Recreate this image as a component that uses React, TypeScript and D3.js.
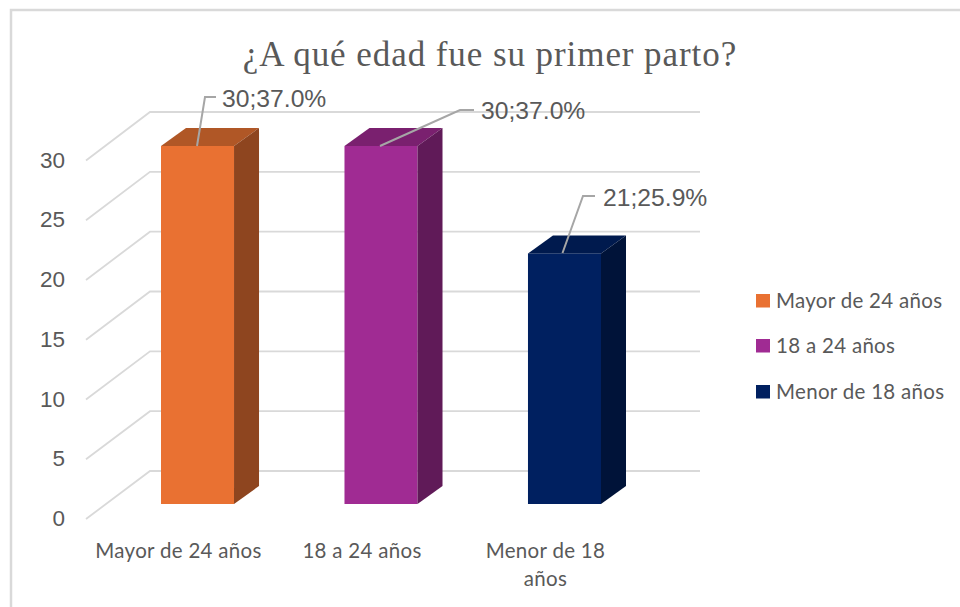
import React from "react";
import * as d3 from "d3";

const categories = ["Mayor de 24 años", "18 a 24 años", "Menor de 18 años"];
const values = [30, 30, 21];
const labels = ["30;37.0%", "30;37.0%", "21;25.9%"];
const ticks = [0, 5, 10, 15, 20, 25, 30];
const frontColors = ["#E97132", "#A02B93", "#002060"];
const topColors = ["#B05726", "#7A206F", "#001A4E"];
const sideColors = ["#8E451F", "#601A58", "#001339"];
const axisLines: string[][] = [["Mayor de 24 años"], ["18 a 24 años"], ["Menor de 18", "años"]];

const W = 960;
const H = 607;
const yFront = d3.scaleLinear().domain([0, 30]).range([504, 146]);
const yBack = d3.scaleLinear().domain([0, 30]).range([471, 112]);
const yWall = d3.scaleLinear().domain([0, 30]).range([519, 160.5]);
const x = d3.scaleBand().domain(categories).range([161, 601]).paddingInner(0.602).paddingOuter(0);
const dx = 25;
const dy = 18;
const leaders: [number, number][][] = [
  [[197, 146], [205, 97], [216, 97]],
  [[380, 146], [460, 110], [474, 110]],
  [[562.5, 253], [583, 196], [595, 196]],
];
const labelPos: [number, number][] = [[222, 107], [481, 119], [603, 206]];
const line = d3.line();
const sans = "'Liberation Sans', Arial, sans-serif";
const lato = "Lato, sans-serif";

export default function App() {
  return (
    <svg width={W} height={H} style={{ position: "absolute", left: 0, top: 0, background: "#fff" }}>
      <rect x={11} y={10} width={W + 20} height={H + 20} fill="#fff" stroke="#D9D9D9" strokeWidth={2.5} />
      <text x={490} y={66} textAnchor="middle" fontFamily="'Liberation Serif', serif" fontSize={35} letterSpacing={0.93} fill="#595959">
        ¿A qué edad fue su primer parto?
      </text>
      {ticks.map((t) => (
        <g key={t}>
          <path
            d={line([[86, yWall(t)], [150, yBack(t)], [700, yBack(t)]]) ?? ""}
            fill="none"
            stroke="#D9D9D9"
            strokeWidth={1.8}
          />
          <text x={65} y={yWall(t) + 7} textAnchor="end" fontFamily={sans} fontSize={22.5} fill="#595959">
            {t}
          </text>
        </g>
      ))}
      {categories.map((c, i) => {
        const x0 = x(c)!;
        const barW = x.bandwidth();
        const x1 = x0 + barW;
        const top = yFront(values[i]);
        const bot = yFront(0);
        return (
          <g key={c}>
            <rect x={x0} y={top} width={barW} height={bot - top} fill={frontColors[i]} />
            <path d={line([[x0, top], [x0 + dx, top - dy], [x1 + dx, top - dy], [x1, top]])! + "Z"} fill={topColors[i]} />
            <path d={line([[x1, top], [x1 + dx, top - dy], [x1 + dx, bot - dy], [x1, bot]])! + "Z"} fill={sideColors[i]} />
            <path d={line(leaders[i]) ?? ""} fill="none" stroke="#A6A6A6" strokeWidth={2} />
            <text x={labelPos[i][0]} y={labelPos[i][1]} fontFamily={sans} fontSize={24.7} fill="#595959">
              {labels[i]}
            </text>
            {axisLines[i].map((l, j) => (
              <text key={l} x={x0 + barW / 2 - 19} y={558 + j * 28} textAnchor="middle" fontFamily={lato} fontSize={20.5} letterSpacing={0.3} fill="#595959">
                {l}
              </text>
            ))}
            <rect x={756} y={[294, 339, 385][i]} width={14} height={13.5} fill={frontColors[i]} />
            <text x={776} y={[308, 353, 399][i]} fontFamily={lato} fontSize={20.5} letterSpacing={0.3} fill="#595959">
              {c}
            </text>
          </g>
        );
      })}
    </svg>
  );
}
